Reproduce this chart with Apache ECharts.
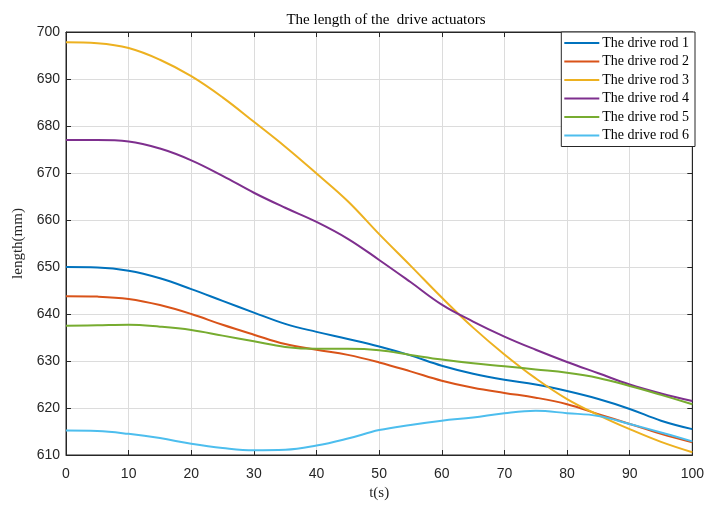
<!DOCTYPE html>
<html>
<head>
<meta charset="utf-8">
<script src="https://cdn.jsdelivr.net/npm/echarts@6/dist/echarts.min.js"></script>
<style>
  html, body { margin: 0; padding: 0; background: #fff; }
  #main { width: 707px; height: 506px; }
</style>
</head>
<body>
<div id="main"></div>
<script>
// time samples (s)
var timeS = [0, 5, 10, 15, 20, 25, 30, 35, 40, 45, 50, 55, 60, 65, 70, 75, 80, 85, 90, 95, 100];

// lengths (mm)
var rod1 = [650.0, 649.9, 649.2, 647.6, 645.3, 642.8, 640.3, 637.9, 636.2, 634.7, 633.1, 631.2, 629.0, 627.3, 626.0, 625.0, 623.6, 621.9, 619.8, 617.3, 615.5];
var rod2 = [643.8, 643.7, 643.2, 641.9, 640.0, 637.7, 635.6, 633.6, 632.4, 631.3, 629.7, 627.8, 625.8, 624.3, 623.2, 622.2, 620.8, 618.7, 616.6, 614.5, 612.7];
var rod3 = [697.8, 697.6, 696.6, 694.1, 690.6, 686.1, 680.9, 675.6, 669.9, 664.0, 657.0, 650.3, 643.5, 637.1, 631.4, 626.3, 621.9, 618.5, 615.5, 612.8, 610.6];
var rod4 = [677.0, 677.0, 676.7, 675.2, 672.7, 669.4, 665.8, 662.6, 659.6, 656.0, 651.5, 646.8, 642.0, 638.4, 635.2, 632.4, 629.8, 627.4, 625.0, 623.1, 621.5];
var rod5 = [637.5, 637.6, 637.7, 637.3, 636.6, 635.4, 634.2, 633.0, 632.6, 632.6, 632.3, 631.3, 630.3, 629.5, 628.9, 628.2, 627.5, 626.4, 624.7, 622.8, 620.8];
var rod6 = [615.2, 615.1, 614.5, 613.6, 612.4, 611.5, 611.0, 611.1, 612.0, 613.5, 615.3, 616.4, 617.3, 618.0, 618.9, 619.4, 618.9, 618.3, 616.6, 614.8, 612.9];

var rodNames = ['The drive rod 1', 'The drive rod 2', 'The drive rod 3', 'The drive rod 4', 'The drive rod 5', 'The drive rod 6'];
var rodColors = ['#0072BD', '#D95319', '#EDB120', '#7E2F8E', '#77AC30', '#4DBEEE'];

function pairs(ys) {
    return timeS.map(function (t, i) { return [t, ys[i]]; });
}

var myChart = echarts.init(document.getElementById('main'));
var serif = '"Liberation Serif", "Times New Roman", serif';
var sans = '"Liberation Sans", Arial, sans-serif';

var series = [rod1, rod2, rod3, rod4, rod5, rod6].map(function (ys, i) {
    return {
        name: rodNames[i],
        type: 'line',
        smooth: 0.4,
        showSymbol: false,
        data: pairs(ys),
        lineStyle: { color: rodColors[i], width: 2 },
        itemStyle: { color: rodColors[i] }
    };
});

var tickStyle = { show: true, inside: true, length: 5, lineStyle: { color: '#262626', width: 1 } };

var option = {
    animation: false,
    title: {
        text: 'The length of the  drive actuators',
        left: 381,
        textAlign: 'center',
        top: 8,
        textStyle: { fontFamily: serif, fontSize: 15, fontWeight: 'normal', color: '#000' }
    },
    legend: {
        data: rodNames,
        orient: 'vertical',
        right: 12,
        top: 32,
        padding: [4, 6, 4, 3],
        itemGap: 4.5,
        itemWidth: 35,
        itemHeight: 2,
        icon: 'rect',
        backgroundColor: '#fff',
        borderColor: '#262626',
        borderWidth: 1,
        borderRadius: 0,
        textStyle: { fontFamily: serif, fontSize: 14, color: '#000', padding: [0, 0, 0, -2] }
    },
    grid: {
        left: 66,
        right: 10,
        top: 32,
        bottom: 47,
        show: true,
        borderColor: '#262626',
        borderWidth: 1
    },
    xAxis: [{
        type: 'value',
        min: 0,
        max: 100,
        interval: 10,
        name: 't(s)',
        nameLocation: 'middle',
        nameGap: 31,
        nameTextStyle: { fontFamily: serif, fontSize: 15, color: '#262626' },
        axisLine: { show: true, onZero: false, lineStyle: { color: '#262626' } },
        axisTick: tickStyle,
        axisLabel: { fontFamily: sans, fontSize: 14, color: '#262626', margin: 12 },
        splitLine: { show: true, lineStyle: { color: '#dcdcdc' } }
    }, {
        type: 'value',
        position: 'top',
        min: 0,
        max: 100,
        interval: 10,
        axisLine: { show: true, onZero: false, lineStyle: { color: '#262626' } },
        axisTick: tickStyle,
        axisLabel: { show: false },
        splitLine: { show: false }
    }],
    yAxis: [{
        type: 'value',
        min: 610,
        max: 700,
        interval: 10,
        name: 'length(mm)',
        nameLocation: 'middle',
        nameGap: 25,
        nameTextStyle: { fontFamily: serif, fontSize: 15, color: '#262626' },
        axisLine: { show: true, onZero: false, lineStyle: { color: '#262626' } },
        axisTick: tickStyle,
        axisLabel: { fontFamily: sans, fontSize: 14, color: '#262626', margin: 6 },
        splitLine: { show: true, lineStyle: { color: '#dcdcdc' } }
    }, {
        type: 'value',
        position: 'right',
        min: 610,
        max: 700,
        interval: 10,
        axisLine: { show: true, onZero: false, lineStyle: { color: '#262626' } },
        axisTick: tickStyle,
        axisLabel: { show: false },
        splitLine: { show: false }
    }],
    series: series
};

myChart.setOption(option);
</script>
</body>
</html>
